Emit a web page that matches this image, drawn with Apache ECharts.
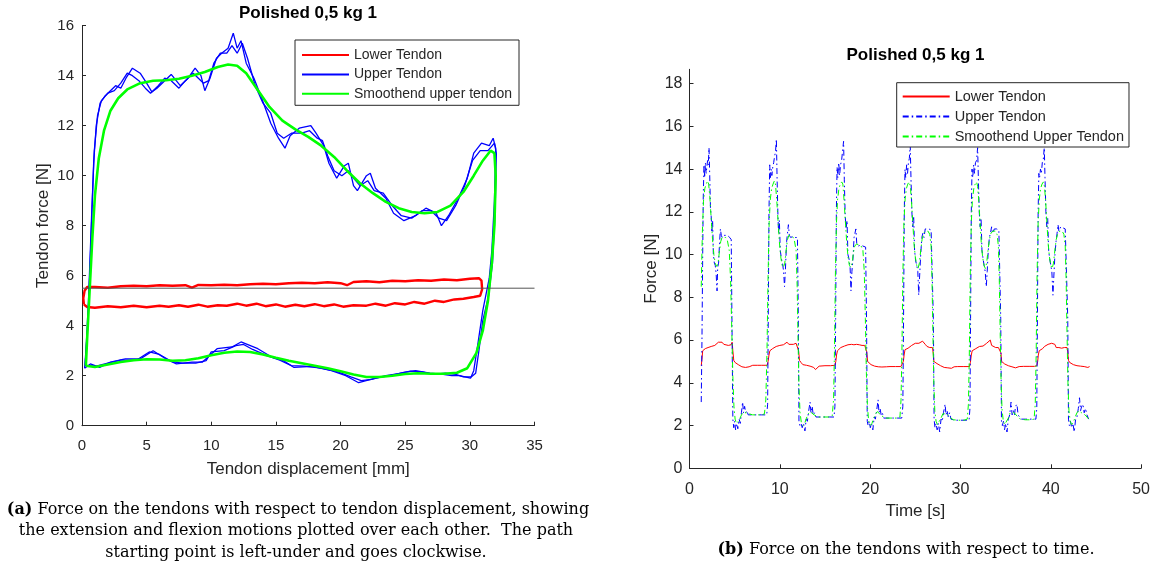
<!DOCTYPE html>
<html>
<head>
<meta charset="utf-8">
<script src="https://cdn.jsdelivr.net/npm/echarts@6/dist/echarts.min.js"></script>
<style>
html,body{margin:0;padding:0;background:#fff;}
#main{width:1153px;height:562px;}
</style>
</head>
<body>
<div id="main"></div>
<script>
// ---------- Data: chart (a), force vs tendon displacement ----------
const chartTitle = 'Polished 0,5 kg 1';
const xTicksA = [0, 5, 10, 15, 20, 25, 30, 35];
const yTicksA = [0, 2, 4, 6, 8, 10, 12, 14, 16];

const loopLowerTendon = [[0.15,4.85],[0.1,5.1],[0.2,5.4],[0.4,5.55],[1,5.55],[2,5.52],[3,5.58],[4,5.6],[5,5.58],[6,5.62],[7,5.6],[8,5.62],[8.5,5.52],[9,5.63],[10,5.62],[11,5.64],[12,5.62],[13,5.66],[14,5.68],[15,5.66],[16,5.7],[17,5.72],[18,5.7],[19,5.74],[20,5.7],[20.5,5.62],[21,5.75],[22,5.78],[23,5.74],[24,5.8],[25,5.78],[26,5.82],[27,5.8],[28,5.85],[29,5.82],[30,5.88],[30.7,5.9],[30.9,5.8],[30.95,5.45],[30.8,5.2],[30.3,5.15],[29.5,5.08],[28.8,5.05],[28,4.95],[27.3,5.0],[26.5,4.88],[25.7,4.95],[25,4.85],[24.2,4.9],[23.5,4.8],[22.7,4.88],[22,4.8],[21,4.82],[20.2,4.76],[19.5,4.85],[18.7,4.78],[18,4.86],[17.2,4.78],[16.5,4.84],[15.7,4.76],[15,4.85],[14.2,4.78],[13.5,4.88],[12.7,4.8],[12,4.88],[11.2,4.8],[10.5,4.82],[9.7,4.76],[9,4.84],[8.2,4.76],[7.5,4.82],[6.7,4.76],[6,4.8],[5,4.74],[4,4.8],[3,4.74],[2,4.78],[1,4.72],[0.4,4.75],[0.15,4.85]];

const loopUpperTendon = [[0.2,2.3],[0.45,4],[0.7,7.5],[0.9,10.5],[1.1,12],[1.4,12.9],[1.8,13.2],[2.2,13.4],[2.6,13.6],[3.0,13.5],[3.4,13.9],[3.9,14.3],[4.5,14.1],[5.0,13.7],[5.4,13.35],[5.8,13.5],[6.2,13.7],[6.9,14.05],[7.6,13.6],[8.2,13.9],[8.75,14.3],[9.2,14.0],[9.5,13.4],[9.9,13.9],[10.4,14.7],[10.8,14.9],[11.3,15.1],[11.7,15.7],[12.0,15.1],[12.3,15.4],[12.7,14.5],[13.3,13.9],[13.9,13.1],[14.6,12.1],[15.2,11.5],[15.7,11.1],[16.1,11.6],[16.8,11.9],[17.7,12.0],[18.1,11.7],[18.7,11.2],[19.1,10.5],[19.7,9.9],[20.3,10.4],[20.6,10.5],[21.0,9.6],[21.3,9.4],[22.0,10.0],[22.3,10.1],[22.7,9.5],[23.5,9.1],[24.1,8.5],[24.9,8.2],[25.8,8.4],[26.6,8.7],[27.4,8.5],[27.8,8.0],[28.35,8.4],[29.1,9.1],[29.8,9.9],[30.3,10.9],[30.9,11.3],[31.5,11.2],[31.8,11.5],[32.0,11.1],[31.9,9],[31.7,7],[31.5,5.9],[31.0,4.6],[30.6,3.2],[30.3,2.2],[30.05,1.9],[29.2,2.0],[28.6,2.0],[27.8,2.06],[26.9,2.1],[25.8,2.2],[24.9,2.13],[23.8,2.0],[22.7,1.9],[21.4,1.72],[20.4,2.0],[19.3,2.2],[17.8,2.37],[16.4,2.33],[15.6,2.6],[14.7,2.74],[13.6,3.08],[12.3,3.35],[11.6,3.15],[10.45,3.08],[9.3,2.54],[8.5,2.54],[7.3,2.47],[6.5,2.67],[5.5,3.0],[4.5,2.67],[3.35,2.67],[2.2,2.54],[1.36,2.33],[0.65,2.47],[0.2,2.3]];

const loopUpperTendonRepeat = [[0.25,2.4],[0.5,5],[0.75,8.5],[0.95,11],[1.2,12.4],[1.5,13.0],[2.0,13.3],[2.5,13.4],[3.0,13.7],[3.5,14.1],[3.9,14.0],[4.4,13.8],[4.9,13.5],[5.3,13.3],[5.9,13.6],[6.4,13.9],[6.9,13.8],[7.5,13.5],[8.0,13.8],[8.6,14.1],[9.0,13.9],[9.4,13.7],[9.8,13.8],[10.2,14.5],[10.7,14.9],[11.2,14.9],[11.6,15.2],[12.0,14.9],[12.4,15.3],[12.8,14.7],[13.4,13.6],[14.0,12.9],[14.6,12.5],[15.1,11.7],[15.6,11.5],[16.2,11.7],[17.0,11.7],[17.6,11.8],[18.2,11.5],[18.6,11.4],[19.0,10.8],[19.5,10.2],[20.1,10.0],[20.6,10.2],[21.0,9.9],[21.5,9.6],[22.1,9.8],[22.6,9.4],[23.3,9.3],[24.0,8.8],[24.7,8.4],[25.5,8.3],[26.3,8.6],[27.0,8.6],[27.6,8.3],[28.2,8.2],[28.9,8.8],[29.6,9.6],[30.2,10.6],[30.8,11.0],[31.4,11.0],[31.9,11.3],[32.05,10.9],[31.95,8.5],[31.75,6.5],[31.45,5.2],[31.0,4.2],[30.7,3.0],[30.45,2.1],[30.1,1.95],[29.5,1.95],[28.9,2.05],[28.1,2.1],[27.2,2.05],[26.3,2.15],[25.4,2.18],[24.5,2.08],[23.5,2.0],[22.4,1.85],[21.6,1.8],[20.8,1.95],[19.8,2.15],[18.5,2.3],[17.2,2.38],[16.2,2.4],[15.3,2.62],[14.3,2.8],[13.2,3.05],[12.5,3.25],[11.9,3.2],[11.0,3.0],[10.0,2.95],[9.6,2.6],[8.8,2.5],[7.8,2.5],[7.0,2.55],[6.0,2.85],[5.2,2.95],[4.2,2.62],[3.0,2.62],[2.0,2.5],[1.1,2.38],[0.5,2.4],[0.25,2.4]];

const loopSmoothUpper = [[0.3,2.4],[0.4,3.5],[0.6,5.5],[0.8,7.5],[1.0,9.2],[1.3,10.7],[1.7,11.8],[2.2,12.6],[2.8,13.1],[3.5,13.45],[4.5,13.7],[5.5,13.8],[6.5,13.82],[7.5,13.88],[8.5,14.0],[9.5,14.15],[10.5,14.35],[11.3,14.45],[12.0,14.4],[12.7,14.1],[13.5,13.5],[14.5,12.75],[15.5,12.2],[16.5,11.85],[17.5,11.55],[18.5,11.2],[19.5,10.75],[20.5,10.2],[21.5,9.7],[22.5,9.3],[23.5,8.95],[24.5,8.7],[25.5,8.55],[26.5,8.5],[27.5,8.55],[28.5,8.8],[29.5,9.35],[30.3,10.0],[31.0,10.6],[31.6,11.0],[31.9,10.9],[32.0,10.0],[31.9,8.0],[31.7,6.5],[31.4,5.0],[31.0,3.8],[30.5,2.9],[29.8,2.3],[29.0,2.12],[28.0,2.08],[27.0,2.08],[26.0,2.1],[25.0,2.07],[24.0,2.0],[23.0,1.95],[22.0,1.95],[21.0,2.05],[20.0,2.18],[19.0,2.3],[18.0,2.4],[17.0,2.5],[16.0,2.6],[15.0,2.72],[14.0,2.85],[13.0,2.95],[12.0,2.97],[11.0,2.92],[10.0,2.82],[9.0,2.7],[8.0,2.62],[7.0,2.6],[6.0,2.65],[5.0,2.66],[4.0,2.62],[3.0,2.55],[2.0,2.45],[1.0,2.35],[0.3,2.4]];

const referenceLine = [[0,5.5],[35,5.5]];

// ---------- Data: chart (b), force vs time ----------
const xTicksB = [0, 10, 20, 30, 40, 50];
const yTicksB = [0, 2, 4, 6, 8, 10, 12, 14, 16, 18];

const timeLowerTendon = [[1.30,4.8],[1.38,5.1],[1.46,5.5],[1.60,5.55],[1.75,5.6],[1.9,5.55],[2.05,5.65],[2.2,5.6],[2.4,5.7],[2.6,5.65],[2.8,5.75],[3.0,5.8],[3.2,5.9],[3.4,5.85],[3.6,5.9],[3.8,5.8],[4.0,5.78],[4.3,5.75],[4.6,5.78],[4.72,5.9],[4.8,5.5],[4.9,5.05],[5.05,4.95],[5.2,4.9],[5.4,4.85],[5.6,4.8],[5.8,4.75],[6.0,4.78],[6.2,4.72],[6.4,4.78],[6.6,4.75],[6.8,4.78],[7.0,4.82],[7.5,4.82],[8.0,4.82],[8.6,4.82],[8.7,5.0],
[8.8,5.3],[8.9,5.5],[9.05,5.55],[9.2,5.6],[9.4,5.65],[9.6,5.7],[9.8,5.72],[10.0,5.75],[10.2,5.8],[10.4,5.78],[10.6,5.85],[10.8,5.9],[11.0,5.8],[11.2,5.82],[11.5,5.8],[11.8,5.85],[12.0,5.9],[12.08,5.5],[12.18,5.05],[12.35,4.95],[12.55,4.85],[12.75,4.8],[12.95,4.82],[13.15,4.75],[13.35,4.78],[13.55,4.7],[13.75,4.72],[13.95,4.62],[14.15,4.7],[14.35,4.78],[14.55,4.8],[15.0,4.8],[15.6,4.8],[16.1,4.82],[16.2,5.0],
[16.28,5.3],[16.38,5.5],[16.55,5.55],[16.75,5.65],[16.95,5.7],[17.15,5.72],[17.35,5.8],[17.55,5.78],[17.75,5.85],[17.95,5.8],[18.2,5.78],[18.5,5.8],[18.8,5.78],[19.1,5.75],[19.4,5.75],[19.55,5.8],[19.62,5.45],[19.72,5.0],[19.9,4.92],[20.1,4.85],[20.3,4.8],[20.5,4.78],[20.7,4.82],[20.9,4.75],[21.1,4.78],[21.3,4.74],[21.5,4.78],[21.8,4.75],[22.2,4.76],[22.8,4.76],[23.4,4.76],[23.6,4.8],[23.68,5.0],
[23.76,5.3],[23.86,5.55],[24.0,5.6],[24.2,5.62],[24.4,5.7],[24.6,5.75],[24.8,5.8],[25.0,5.85],[25.2,5.9],[25.4,5.85],[25.6,5.92],[25.8,5.95],[25.95,6.0],[26.1,5.8],[26.3,5.7],[26.6,5.65],[26.9,5.65],[26.98,5.4],[27.06,5.0],[27.2,4.95],[27.4,4.9],[27.6,4.82],[27.8,4.8],[28.0,4.75],[28.2,4.72],[28.4,4.76],[28.6,4.7],[28.8,4.74],[29.0,4.68],[29.3,4.75],[29.7,4.76],[30.3,4.76],[31.0,4.76],[31.1,4.95],
[31.2,5.3],[31.3,5.5],[31.5,5.55],[31.7,5.6],[31.9,5.65],[32.1,5.7],[32.3,5.75],[32.5,5.72],[32.7,5.8],[32.9,5.85],[33.1,5.9],[33.3,6.0],[33.45,5.75],[33.6,5.7],[33.9,5.65],[34.2,5.65],[34.4,5.65],[34.48,5.4],[34.56,5.0],[34.7,4.95],[34.9,4.88],[35.1,4.85],[35.3,4.8],[35.5,4.82],[35.7,4.75],[35.9,4.72],[36.1,4.7],[36.3,4.74],[36.5,4.76],[37.0,4.77],[37.6,4.77],[38.2,4.77],[38.45,4.8],[38.55,5.0],
[38.62,5.3],[38.72,5.5],[38.9,5.55],[39.1,5.6],[39.3,5.7],[39.5,5.75],[39.7,5.8],[39.9,5.82],[40.1,5.85],[40.3,5.9],[40.45,5.8],[40.6,5.65],[40.9,5.65],[41.2,5.62],[41.5,5.65],[41.8,5.65],[41.88,5.45],[41.96,5.05],[42.1,4.95],[42.3,4.88],[42.5,4.85],[42.7,4.82],[42.9,4.8],[43.1,4.82],[43.3,4.78],[43.5,4.8],[43.7,4.76],[43.9,4.74],[44.1,4.72],[44.3,4.76]];

const timeUpperTendon = [[1.30,3.1],[1.38,6.0],[1.45,9.5],[1.52,12.6],[1.60,14.2],[1.68,13.6],[1.76,14.3],[1.84,13.8],[1.92,14.1],[2.00,14.4],[2.08,14.2],[2.16,15.0],[2.24,13.7],[2.32,12.2],[2.40,11.8],[2.48,11.1],[2.56,11.6],[2.64,10.0],[2.75,9.6],[2.85,9.5],[2.95,9.1],[3.05,8.3],[3.12,9.4],[3.22,9.6],[3.32,10.5],[3.42,11.2],[3.52,10.9],[3.62,10.8],[3.80,10.9],[4.00,10.85],[4.20,10.9],[4.45,10.8],[4.62,10.7],[4.72,6.0],[4.80,2.3],[4.90,1.9],[5.00,2.2],[5.10,1.8],[5.20,2.1],[5.35,1.85],[5.50,2.3],[5.62,2.1],[5.75,2.6],[5.88,3.1],[5.98,2.6],[6.10,2.9],[6.22,2.6],[6.35,2.7],[6.50,2.5],[7.00,2.5],[7.50,2.5],[8.00,2.5],[8.55,2.5],[8.65,3.0],
[8.72,7.0],[8.80,12.0],[8.88,14.2],[8.96,13.6],[9.04,14.0],[9.12,13.7],[9.22,14.1],[9.32,14.3],[9.42,14.6],[9.52,14.8],[9.62,15.4],[9.70,13.5],[9.78,12.0],[9.86,11.0],[9.95,11.6],[10.05,10.2],[10.18,9.8],[10.30,9.6],[10.42,9.2],[10.52,8.5],[10.62,9.3],[10.75,10.6],[10.85,11.0],[10.95,11.4],[11.05,10.9],[11.20,10.8],[11.45,10.85],[11.70,10.8],[11.95,10.8],[12.05,7.0],[12.12,2.2],[12.22,2.0],[12.35,2.1],[12.48,1.9],[12.62,2.1],[12.78,1.75],[12.92,2.3],[13.05,2.2],[13.20,2.7],[13.35,3.1],[13.45,2.6],[13.58,2.9],[13.70,2.5],[13.85,2.6],[14.00,2.4],[14.5,2.4],[15.0,2.4],[15.5,2.4],[16.0,2.4],[16.1,2.9],
[16.18,7.0],[16.26,12.0],[16.34,14.1],[16.42,13.6],[16.52,14.3],[16.62,13.7],[16.72,14.2],[16.84,14.4],[16.96,14.9],[17.06,15.3],[17.14,13.5],[17.24,11.8],[17.34,11.2],[17.44,11.6],[17.54,10.0],[17.66,9.8],[17.78,9.4],[17.88,8.3],[17.98,9.2],[18.1,9.8],[18.22,10.8],[18.32,11.0],[18.42,11.2],[18.52,10.5],[18.7,10.4],[18.95,10.45],[19.2,10.4],[19.5,10.35],[19.6,7.0],[19.68,2.2],[19.78,2.0],[19.9,2.2],[20.02,1.9],[20.15,2.1],[20.3,1.8],[20.45,2.4],[20.58,2.3],[20.72,2.7],[20.88,3.2],[20.98,2.6],[21.1,2.8],[21.22,2.5],[21.35,2.6],[21.5,2.35],[22.0,2.35],[22.5,2.35],[23.0,2.35],[23.5,2.35],[23.62,2.9],
[23.7,7.0],[23.78,12.0],[23.86,14.0],[23.94,13.6],[24.04,14.2],[24.14,13.8],[24.24,14.3],[24.34,14.5],[24.44,15.1],[24.52,13.6],[24.62,12.0],[24.72,11.3],[24.82,11.8],[24.92,10.2],[25.04,9.7],[25.16,9.5],[25.28,9.2],[25.38,8.1],[25.48,9.0],[25.6,10.0],[25.72,10.8],[25.84,11.0],[25.96,10.8],[26.1,11.2],[26.3,11.25],[26.5,11.2],[26.75,11.15],[26.92,11.1],[27.0,7.0],[27.08,2.3],[27.18,1.9],[27.3,2.1],[27.42,1.8],[27.55,2.1],[27.7,1.7],[27.85,2.3],[27.98,2.2],[28.12,2.6],[28.3,3.0],[28.4,2.5],[28.52,2.7],[28.65,2.4],[28.8,2.6],[28.95,2.3],[29.4,2.25],[30.0,2.25],[30.5,2.25],[30.95,2.25],[31.05,2.8],
[31.12,7.0],[31.2,12.0],[31.28,14.0],[31.36,13.6],[31.46,14.2],[31.56,13.8],[31.66,14.3],[31.78,14.4],[31.9,15.0],[31.98,13.6],[32.08,12.0],[32.18,11.3],[32.28,11.7],[32.38,10.2],[32.5,9.8],[32.62,9.5],[32.74,9.2],[32.86,8.5],[32.96,9.2],[33.08,10.2],[33.2,10.8],[33.32,11.0],[33.45,11.3],[33.55,11.0],[33.75,11.2],[34.0,11.2],[34.25,11.15],[34.38,11.1],[34.46,7.0],[34.54,2.2],[34.64,2.0],[34.76,2.2],[34.88,1.8],[35.0,2.1],[35.15,1.7],[35.3,2.3],[35.45,2.5],[35.6,3.1],[35.72,2.5],[35.85,2.7],[35.98,2.5],[36.1,2.9],[36.25,3.0],[36.38,2.5],[36.55,2.4],[36.75,2.3],[37.2,2.3],[37.8,2.3],[38.35,2.3],[38.45,2.8],
[38.52,7.0],[38.6,12.0],[38.68,13.8],[38.76,13.6],[38.86,14.0],[38.96,13.8],[39.06,14.3],[39.16,14.4],[39.28,15.0],[39.36,13.6],[39.46,12.0],[39.56,11.3],[39.66,11.7],[39.76,10.2],[39.88,9.8],[40.0,9.5],[40.12,9.2],[40.24,8.1],[40.34,9.0],[40.46,10.0],[40.58,10.6],[40.7,11.0],[40.8,11.4],[40.9,11.1],[41.1,11.3],[41.35,11.25],[41.6,11.2],[41.8,11.15],[41.88,7.0],[41.96,2.3],[42.06,2.0],[42.18,2.2],[42.3,1.9],[42.45,2.1],[42.6,1.7],[42.75,2.3],[42.9,2.4],[43.05,2.8],[43.18,3.3],[43.3,2.7],[43.42,2.9],[43.55,3.0],[43.7,2.6],[43.85,2.8],[44.0,2.5],[44.2,2.3]];

const timeSmoothUpper = [[1.30,8.5],[1.42,11.0],[1.55,12.5],[1.70,13.1],[1.85,13.3],[2.00,13.45],[2.12,13.3],[2.25,12.7],[2.40,11.7],[2.55,10.7],[2.70,10.0],[2.85,9.6],[3.00,9.45],[3.15,9.55],[3.30,10.1],[3.45,10.6],[3.60,10.8],[3.80,10.85],[4.00,10.8],[4.20,10.65],[4.40,10.2],[4.55,8.8],[4.68,6.5],[4.80,4.3],[4.92,2.9],[5.05,2.3],[5.20,2.1],[5.35,2.1],[5.50,2.25],[5.70,2.45],[5.90,2.6],[6.10,2.65],[6.30,2.6],[6.60,2.55],[7.00,2.5],[7.50,2.5],[8.00,2.5],[8.30,2.55],[8.45,3.2],[8.58,5.5],[8.70,9.0],
[8.82,11.5],[8.95,12.6],[9.10,13.1],[9.25,13.3],[9.40,13.45],[9.52,13.3],[9.65,12.6],[9.80,11.6],[9.95,10.6],[10.10,9.9],[10.25,9.5],[10.40,9.4],[10.55,9.6],[10.70,10.2],[10.85,10.7],[11.00,10.9],[11.20,10.9],[11.40,10.85],[11.60,10.7],[11.80,10.2],[11.92,8.5],[12.02,6.0],[12.12,3.8],[12.24,2.6],[12.38,2.15],[12.55,2.0],[12.75,2.1],[12.95,2.35],[13.15,2.55],[13.35,2.65],[13.55,2.6],[13.8,2.5],[14.2,2.4],[14.8,2.4],[15.4,2.4],[15.8,2.45],[15.95,3.2],[16.05,5.5],[16.15,9.0],
[16.27,11.5],[16.4,12.6],[16.55,13.1],[16.7,13.3],[16.85,13.4],[16.98,13.3],[17.1,12.6],[17.25,11.6],[17.4,10.6],[17.55,9.9],[17.7,9.5],[17.85,9.4],[18.0,9.6],[18.15,10.1],[18.3,10.4],[18.5,10.5],[18.75,10.45],[19.0,10.4],[19.2,10.2],[19.35,9.2],[19.47,7.0],[19.58,4.5],[19.7,2.9],[19.84,2.2],[20.0,2.0],[20.2,2.1],[20.4,2.35],[20.6,2.55],[20.8,2.65],[21.0,2.6],[21.3,2.45],[21.7,2.35],[22.3,2.35],[23.0,2.35],[23.3,2.4],[23.42,3.2],[23.52,5.5],[23.62,9.0],
[23.74,11.5],[23.87,12.6],[24.02,13.1],[24.17,13.3],[24.32,13.4],[24.45,13.2],[24.58,12.5],[24.72,11.5],[24.86,10.5],[25.0,9.9],[25.15,9.5],[25.3,9.35],[25.45,9.6],[25.6,10.2],[25.75,10.7],[25.92,11.0],[26.15,11.1],[26.4,11.1],[26.6,10.95],[26.75,10.4],[26.85,8.8],[26.95,6.3],[27.05,4.0],[27.16,2.7],[27.3,2.2],[27.45,2.05],[27.65,2.1],[27.85,2.35],[28.05,2.55],[28.25,2.6],[28.5,2.55],[28.8,2.4],[29.2,2.27],[29.8,2.25],[30.4,2.25],[30.75,2.3],[30.88,3.0],[30.98,5.3],[31.08,9.0],
[31.2,11.5],[31.33,12.6],[31.48,13.1],[31.63,13.3],[31.78,13.4],[31.9,13.2],[32.03,12.5],[32.17,11.5],[32.31,10.5],[32.45,9.9],[32.6,9.5],[32.75,9.35],[32.9,9.6],[33.05,10.2],[33.2,10.7],[33.38,11.0],[33.6,11.1],[33.85,11.1],[34.05,10.95],[34.2,10.4],[34.3,8.8],[34.4,6.3],[34.5,4.0],[34.61,2.7],[34.75,2.2],[34.9,2.05],[35.1,2.1],[35.3,2.35],[35.5,2.6],[35.7,2.65],[35.95,2.6],[36.25,2.45],[36.6,2.3],[37.2,2.27],[37.8,2.27],[38.15,2.3],[38.28,3.0],[38.38,5.3],[38.48,9.0],
[38.6,11.5],[38.73,12.6],[38.88,13.1],[39.03,13.3],[39.18,13.4],[39.3,13.2],[39.43,12.5],[39.57,11.5],[39.71,10.5],[39.85,9.9],[40.0,9.5],[40.15,9.35],[40.3,9.6],[40.45,10.2],[40.6,10.7],[40.78,11.0],[41.0,11.1],[41.25,11.1],[41.45,10.95],[41.6,10.4],[41.7,8.8],[41.8,6.3],[41.9,4.0],[42.01,2.7],[42.15,2.2],[42.3,2.05],[42.5,2.15],[42.7,2.4],[42.9,2.6],[43.1,2.7],[43.3,2.65],[43.55,2.55],[43.8,2.5],[44.0,2.45],[44.2,2.3]];

// ---------- Rendering ----------
const SANS = '"Liberation Sans", Arial, Helvetica, sans-serif';
const SERIF = '"DejaVu Serif", "Liberation Serif", serif';
const AX = '#262626';
const DASHDOT = [6, 3, 1.5, 3];
const CAPTION_SIZE = 16;

function axisBase(extra) {
  return Object.assign({
    type: 'value',
    axisLine: { show: true, onZero: false, lineStyle: { color: AX, width: 1 } },
    axisTick: { show: true, inside: true, length: 4, lineStyle: { color: AX } },
    splitLine: { show: false },
    nameLocation: 'middle'
  }, extra);
}

function caption(x, y, text) {
  return { type: 'text', x: x, y: y, style: {
    text: text,
    rich: { b: { fontWeight: 'bold', fontFamily: SERIF, fontSize: CAPTION_SIZE, fill: '#000' } },
    fontFamily: SERIF, fontSize: CAPTION_SIZE, fill: '#000',
    align: 'center', verticalAlign: 'middle', textAlign: 'center', textVerticalAlign: 'middle' } };
}

const chart = echarts.init(document.getElementById('main'), null, { renderer: 'canvas' });

const legendCommon = {
  orient: 'vertical', itemWidth: 47, itemHeight: 14,
  backgroundColor: '#fff', borderColor: AX, borderWidth: 1, borderRadius: 0,
  itemStyle: { opacity: 0, borderWidth: 0 },
  selectedMode: false
};

const option = {
  animation: false,
  backgroundColor: '#fff',
  grid: [
    { left: 82, right: 618.5, top: 25.7, bottom: 136.3, containLabel: false },
    { left: 689.5, right: 11.3, top: 69.3, bottom: 93.7, containLabel: false }
  ],
  xAxis: [
    axisBase({ gridIndex: 0, min: xTicksA[0], max: xTicksA[xTicksA.length - 1], interval: 5,
      name: 'Tendon displacement [mm]', nameGap: 35,
      nameTextStyle: { color: AX, fontFamily: SANS, fontSize: 17 },
      axisLabel: { color: AX, fontFamily: SANS, fontSize: 15, margin: 13 } }),
    axisBase({ gridIndex: 1, min: xTicksB[0], max: xTicksB[xTicksB.length - 1], interval: 10,
      name: 'Time [s]', nameGap: 35,
      nameTextStyle: { color: AX, fontFamily: SANS, fontSize: 17 },
      axisLabel: { color: AX, fontFamily: SANS, fontSize: 16, margin: 13 } })
  ],
  yAxis: [
    axisBase({ gridIndex: 0, min: yTicksA[0], max: yTicksA[yTicksA.length - 1], interval: 2,
      name: 'Tendon force [N]', nameGap: 30,
      nameTextStyle: { color: AX, fontFamily: SANS, fontSize: 17 },
      axisLabel: { color: AX, fontFamily: SANS, fontSize: 15, margin: 8 } }),
    axisBase({ gridIndex: 1, min: 0, max: 18.67, interval: 2,
      name: 'Force [N]', nameGap: 30,
      nameTextStyle: { color: AX, fontFamily: SANS, fontSize: 17 },
      axisTick: { show: true, inside: true, length: 4, lineStyle: { color: AX }, customValues: yTicksB },
      axisLabel: { color: AX, fontFamily: SANS, fontSize: 16, margin: 7, customValues: yTicksB } })
  ],
  legend: [
    Object.assign({}, legendCommon, {
      data: ['Lower Tendon', 'Upper Tendon', 'Smoothend upper tendon'],
      left: 295, top: 40,
      padding: [8, 7, 4.5, 6], itemGap: 5.4,
      textStyle: { color: AX, fontFamily: SANS, fontSize: 14, lineHeight: 14 }
    }),
    Object.assign({}, legendCommon, {
      data: ['Lower Tendon (t)', 'Upper Tendon (t)', 'Smoothend Upper Tendon (t)'],
      formatter: function (n) { return n.replace(' (t)', ''); },
      left: 896.7, top: 82.7,
      padding: [6.3, 5, 3, 5], itemGap: 5.0,
      textStyle: { color: AX, fontFamily: SANS, fontSize: 14.5, lineHeight: 14 }
    })
  ],
  graphic: [
    { type: 'text', x: 308, y: 13.5, style: { text: chartTitle, font: 'bold 17px ' + SANS, fill: '#000', align: 'center', verticalAlign: 'middle', textAlign: 'center', textVerticalAlign: 'middle' } },
    { type: 'text', x: 915.5, y: 55, style: { text: chartTitle, font: 'bold 17px ' + SANS, fill: '#000', align: 'center', verticalAlign: 'middle', textAlign: 'center', textVerticalAlign: 'middle' } },
    caption(298, 509.5, '{b|(a)} Force on the tendons with respect to tendon displacement, showing'),
    caption(296, 530.8, 'the extension and flexion motions plotted over each other.  The path'),
    caption(296, 552.5, 'starting point is left-under and goes clockwise.'),
    caption(906, 550, '{b|(b)} Force on the tendons with respect to time.')
  ],
  series: [
    { name: 'Lower Tendon', type: 'line', xAxisIndex: 0, yAxisIndex: 0, data: loopLowerTendon, showSymbol: false, symbol: 'none',
      lineStyle: { color: '#ff0000', width: 2.4 }, itemStyle: { color: '#ff0000' } },
    { name: 'Upper Tendon', type: 'line', xAxisIndex: 0, yAxisIndex: 0, data: loopUpperTendon, showSymbol: false, symbol: 'none',
      lineStyle: { color: '#0000ff', width: 1.3 }, itemStyle: { color: '#0000ff' } },
    { name: 'Upper Tendon', type: 'line', xAxisIndex: 0, yAxisIndex: 0, data: loopUpperTendonRepeat, showSymbol: false, symbol: 'none',
      lineStyle: { color: '#0000ff', width: 1.3 }, itemStyle: { color: '#0000ff' } },
    { name: 'Smoothend upper tendon', type: 'line', xAxisIndex: 0, yAxisIndex: 0, data: loopSmoothUpper, showSymbol: false, symbol: 'none',
      lineStyle: { color: '#00ff00', width: 2.6 }, itemStyle: { color: '#00ff00' } },
    { name: 'ref', type: 'line', xAxisIndex: 0, yAxisIndex: 0, data: referenceLine, showSymbol: false, symbol: 'none',
      lineStyle: { color: '#555555', width: 1 }, silent: true },

    { name: 'Lower Tendon (t)', type: 'line', xAxisIndex: 1, yAxisIndex: 1, data: timeLowerTendon, showSymbol: false, symbol: 'none',
      lineStyle: { color: '#ff0000', width: 1 }, itemStyle: { color: '#ff0000' } },
    { name: 'Upper Tendon (t)', type: 'line', xAxisIndex: 1, yAxisIndex: 1, data: timeUpperTendon, showSymbol: false, symbol: 'none',
      lineStyle: { color: '#0000ff', width: 1, type: DASHDOT }, itemStyle: { color: '#0000ff' } },
    { name: 'Smoothend Upper Tendon (t)', type: 'line', xAxisIndex: 1, yAxisIndex: 1, data: timeSmoothUpper, showSymbol: false, symbol: 'none',
      lineStyle: { color: '#00ff00', width: 1, type: DASHDOT }, itemStyle: { color: '#00ff00' } }
  ]
};

chart.setOption(option);
</script>
</body>
</html>
